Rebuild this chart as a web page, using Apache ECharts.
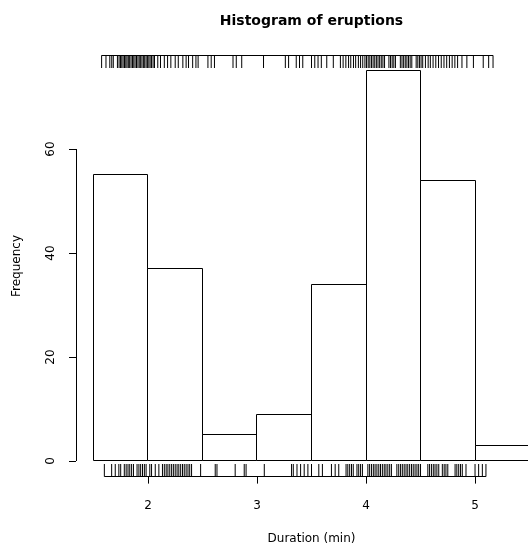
<!DOCTYPE html>
<html><head><meta charset="utf-8">
<script src="https://cdn.jsdelivr.net/npm/echarts@6/dist/echarts.min.js"></script>
<style>html,body{margin:0;padding:0;background:#fff}#c{width:528px;height:546px}</style>
</head><body><div id="c"></div>
<script>
// ---- data ----
const title = 'Histogram of eruptions';
const xLabel = 'Duration (min)';
const yLabel = 'Frequency';
const breaks = [1.5, 2, 2.5, 3, 3.5, 4, 4.5, 5, 5.5];
const counts = [55, 37, 5, 9, 34, 75, 54, 3];
const xTicks = [2, 3, 4, 5];
const yTicks = [0, 20, 40, 60];
const rugBottom = [1.600,1.667,1.700,1.733,1.750,1.783,1.800,1.817,1.833,1.850,1.867,1.900,1.917,1.933,1.950,1.967,1.983,
  2.017,2.033,2.067,2.100,2.133,2.150,2.167,2.183,2.200,2.217,2.233,2.250,2.267,2.283,2.300,2.317,2.333,2.350,2.367,2.383,2.400,
  2.483,2.617,2.633,2.800,2.883,2.900,3.067,3.317,3.333,3.367,3.400,3.433,3.467,3.500,3.567,3.600,3.683,3.717,3.750,
  3.817,3.833,3.850,3.867,3.883,3.917,3.933,3.950,3.967,4.017,4.033,4.050,4.067,4.083,4.100,4.117,4.133,4.150,4.167,4.183,
  4.200,4.217,4.233,4.283,4.300,4.317,4.333,4.350,4.367,4.383,4.400,4.417,4.433,4.450,4.467,4.483,4.500,4.567,4.583,4.600,
  4.617,4.633,4.650,4.667,4.700,4.717,4.733,4.750,4.817,4.833,4.850,4.867,4.883,4.917,5.000,5.033,5.067,5.100];
const rugTop = [1.575,1.615,1.650,1.668,1.682,1.720,1.735,1.748,1.760,1.772,1.785,1.797,1.808,1.820,1.832,1.845,1.858,1.870,
  1.882,1.895,1.908,1.920,1.933,1.945,1.958,1.970,1.983,1.995,2.008,2.020,2.033,2.047,2.060,2.090,2.115,2.150,2.180,2.210,
  2.250,2.278,2.320,2.350,2.372,2.410,2.440,2.460,2.550,2.580,2.610,2.780,2.810,2.860,3.060,3.260,3.290,3.360,3.390,3.420,
  3.500,3.530,3.560,3.590,3.640,3.700,3.765,3.790,3.815,3.840,3.860,3.885,3.905,3.930,3.950,3.970,3.990,4.005,4.020,4.035,
  4.050,4.065,4.080,4.095,4.110,4.125,4.140,4.155,4.170,4.210,4.225,4.240,4.255,4.270,4.315,4.330,4.345,4.360,4.375,4.390,
  4.405,4.420,4.460,4.475,4.490,4.505,4.520,4.545,4.570,4.590,4.615,4.640,4.665,4.690,4.715,4.740,4.765,4.790,4.815,4.840,
  4.880,4.925,4.985,5.075,5.125,5.165];

// ---- chart ----
const xMin = 1.34, xMax = 5.66, yMin = -3, yMax = 78;
const FONT = 'DejaVu Sans';
const TICK = 12.6;
const chart = echarts.init(document.getElementById('c'), null, {renderer: 'canvas'});

const crisp = v => Math.round(v - 0.5) + 0.5;
const barData = counts.map((c, i) => [breaks[i], breaks[i + 1], c]);
const ln = (x1, y1, x2, y2) => ({type: 'line', shape: {x1, y1, x2, y2}, style: {stroke: '#000', lineWidth: 1}});
// segments: [x0, x1, y0, y1] — rug baselines and the y-axis line (0..60)
const segData = [
  [Math.min(...rugBottom), Math.max(...rugBottom), yMin, yMin],
  [Math.min(...rugTop), Math.max(...rugTop), yMax, yMax],
  [xMin, xMin, yTicks[0], yTicks[yTicks.length - 1]]
];

chart.setOption({
  animation: false,
  backgroundColor: '#fff',
  title: {
    text: title, left: 311.5, top: 14, textAlign: 'center', padding: 0,
    textStyle: {fontFamily: FONT, fontWeight: 'bold', fontSize: 14, color: '#000'}
  },
  grid: {left: 76, top: 55.4, width: 471, height: 421.2, containLabel: false, outerBoundsMode: 'none'},
  xAxis: {
    type: 'value', min: xMin, max: xMax,
    name: xLabel, nameLocation: 'middle', nameGap: 56,
    nameTextStyle: {fontFamily: FONT, fontSize: 12, color: '#000'},
    axisLine: {show: false, onZero: false},
    splitLine: {show: false},
    axisTick: {show: true, length: 7, customValues: xTicks, lineStyle: {color: '#000', width: 1}},
    axisLabel: {show: true, margin: 23, customValues: xTicks, fontFamily: FONT, fontSize: 12, color: '#000'}
  },
  yAxis: {
    type: 'value', min: yMin, max: yMax,
    name: yLabel, nameLocation: 'middle', nameGap: 53,
    nameTextStyle: {fontFamily: FONT, fontSize: 12, color: '#000'},
    axisLine: {show: false, onZero: false},
    splitLine: {show: false},
    axisTick: {show: true, length: 7, customValues: yTicks, lineStyle: {color: '#000', width: 1}},
    axisLabel: {show: true, rotate: 90, margin: 19, customValues: yTicks, fontFamily: FONT, fontSize: 12, color: '#000'}
  },
  series: [
    {
      type: 'custom', clip: false, data: barData, encode: {x: [0, 1], y: 2},
      renderItem(params, api) {
        const p0 = api.coord([api.value(0), api.value(2)]);
        const p1 = api.coord([api.value(1), 0]);
        const x0 = crisp(p0[0]), y0 = crisp(p0[1]), x1 = crisp(p1[0]), y1 = crisp(p1[1]);
        return {type: 'rect', shape: {x: x0, y: y0, width: x1 - x0, height: y1 - y0},
          style: {fill: '#fff', stroke: '#000', lineWidth: 1}};
      }
    },
    {
      type: 'custom', clip: false, data: rugBottom.map(v => [v, yMin]), encode: {x: 0, y: 1},
      renderItem(params, api) {
        const p = api.coord([api.value(0), api.value(1)]);
        return ln(p[0], p[1], p[0], p[1] - TICK);
      }
    },
    {
      type: 'custom', clip: false, data: rugTop.map(v => [v, yMax]), encode: {x: 0, y: 1},
      renderItem(params, api) {
        const p = api.coord([api.value(0), api.value(1)]);
        return ln(p[0], p[1], p[0], p[1] + TICK);
      }
    },
    {
      type: 'custom', clip: false, data: segData, encode: {x: [0, 1], y: [2, 3]},
      renderItem(params, api) {
        const a = api.coord([api.value(0), api.value(2)]);
        const b = api.coord([api.value(1), api.value(3)]);
        if (a[0] === b[0]) return ln(crisp(a[0]), a[1], crisp(b[0]), b[1]);
        return ln(a[0], crisp(a[1]), b[0], crisp(b[1]));
      }
    }
  ]
});
</script>
</body></html>
